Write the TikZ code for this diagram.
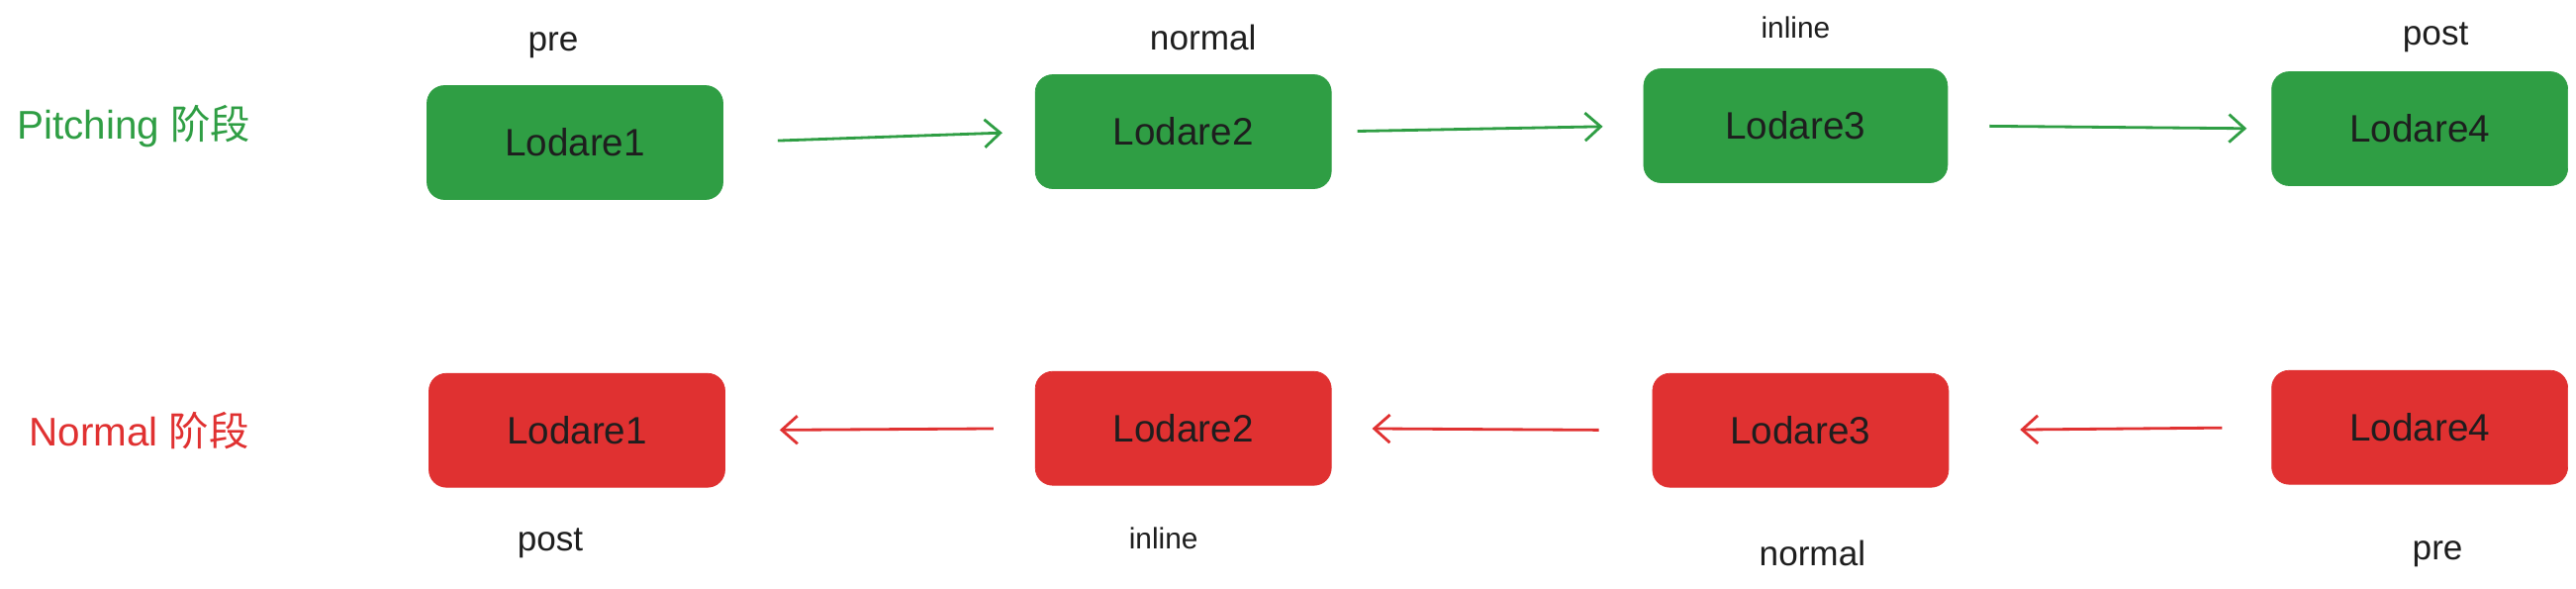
\documentclass[tikz,border=0pt]{standalone}
\usepackage{fontspec}
\setmainfont{Liberation Sans}
\newfontfamily\cjkfont{Noto Sans CJK SC}
\usepackage{xcolor}
\definecolor{leafgreen}{HTML}{2F9E44}
\definecolor{brickred}{HTML}{E03131}
\definecolor{inkblack}{HTML}{1E1E1E}
\usepackage{tikz}
\usetikzlibrary{
    arrows.meta,
    positioning
}

\begin{document}
\begin{tikzpicture}[
    >={Straight Barb[length=9pt, width=16pt]},
    node distance=6.35cm and 6.35cm,
    every text node part/.style={align=center},
    stagebox/.style={rounded corners=10pt, minimum width=5.98cm, minimum height=2.3cm, font=\fontsize{22}{26}\selectfont, text=inkblack},
    pitchbox/.style={stagebox, fill=leafgreen, draw=leafgreen},
    normbox/.style={stagebox, fill=brickred, draw=brickred},
    tag/.style={font=\fontsize{20}{24}\selectfont, text=inkblack, inner sep=1pt},
    phase/.style={font=\fontsize{23}{27}\selectfont, inner sep=0pt},
    flowg/.style={draw=leafgreen, line width=1.6pt, ->},
    flowr/.style={draw=brickred, line width=1.6pt, ->}
]
\useasboundingbox (0,0) rectangle (52.06,-11.88);

% ==================== PITCHING ROW ====================
\node[pitchbox] (p1) at (11.62,-2.88) {Lodare1};
\node[pitchbox, right=6.3cm of p1, yshift=0.22cm] (p2) {Lodare2};
\node[pitchbox, right=6.3cm of p2, yshift=0.12cm, minimum width=6.14cm] (p3) {Lodare3};
\node[pitchbox, right=6.54cm of p3, yshift=-0.06cm] (p4) {Lodare4};

\node[phase, text=leafgreen, left=3.55cm of p1, yshift=0.32cm] (pitch_phase) {Pitching {\cjkfont 阶段}};

\node[tag, above=0.8cm of p1, anchor=center, xshift=-0.44cm] (p1_tag) {pre};
\node[tag, above=0.74cm of p2, anchor=center, xshift=0.4cm] (p2_tag) {normal};
\node[tag, above=0.82cm of p3, anchor=center, font=\fontsize{17}{20}\selectfont] (p3_tag) {inline};
\node[tag, above=0.68cm of p4, anchor=center, xshift=0.32cm] (p4_tag) {post};

\draw[flowg, shorten <=1.1cm, shorten >=0.66cm] (p1.east) -- (p2.west);
\draw[flowg, shorten <=0.52cm, shorten >=0.82cm] (p2.east) -- (p3.west);
\draw[flowg, shorten <=0.84cm, shorten >=0.5cm] (p3.east) -- (p4.west);

% ==================== NORMAL ROW ====================
\node[normbox, below=3.5cm of p1, xshift=0.04cm] (n1) {Lodare1};
\node[normbox, below=3.68cm of p2] (n2) {Lodare2};
\node[normbox, below=3.84cm of p3, xshift=0.1cm] (n3) {Lodare3};
\node[normbox, below=3.72cm of p4] (n4) {Lodare4};

\node[phase, text=brickred, left=3.62cm of n1] (norm_phase) {Normal {\cjkfont 阶段}};

\node[tag, below=1.12cm of n1, anchor=center, xshift=-0.54cm] (n1_tag) {post};
\node[tag, below=1.06cm of n2, anchor=center, xshift=-0.4cm, font=\fontsize{17}{20}\selectfont] (n2_tag) {inline};
\node[tag, below=1.32cm of n3, anchor=center, xshift=0.24cm] (n3_tag) {normal};
\node[tag, below=1.4cm of n4, anchor=center, xshift=0.36cm] (n4_tag) {pre};

\draw[flowr, shorten <=0.84cm, shorten >=1.1cm] (n2.west) -- (n1.east);
\draw[flowr, shorten <=1.08cm, shorten >=0.82cm] (n3.west) -- (n2.east);
\draw[flowr, shorten <=1.0cm, shorten >=1.44cm] (n4.west) -- (n3.east);

\end{tikzpicture}
\end{document}
